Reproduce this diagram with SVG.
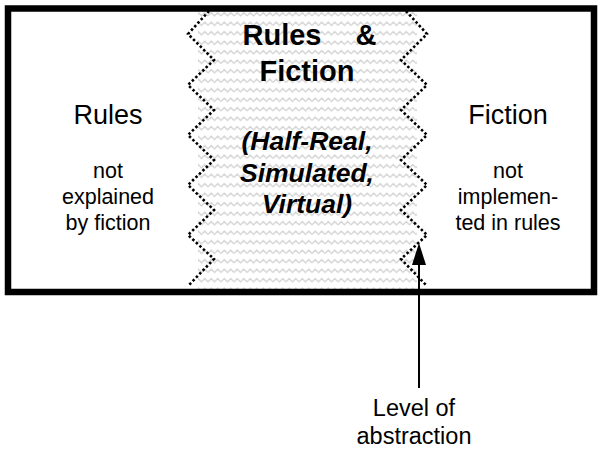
<svg xmlns="http://www.w3.org/2000/svg" width="598" height="452" viewBox="0 0 598 452">
<defs>
<pattern id="wave" patternUnits="userSpaceOnUse" width="13" height="9.5">
<path d="M0,6.5 L3.25,3 L6.5,6.5 L9.75,3 L13,6.5" fill="none" stroke="#d4d4d4" stroke-width="1.4" stroke-linejoin="round"/>
</pattern>
</defs>
<style>
text{font-family:"Liberation Sans",Arial,sans-serif;fill:#000;text-anchor:middle}
.t{font-size:27px}
.s{font-size:21.5px}
.l{font-size:23.5px}
.b{font-size:29px;font-weight:bold}
.bi{font-size:26.5px;font-weight:bold;font-style:italic}
.zz{fill:none;stroke:#000;stroke-width:2.6;stroke-dasharray:2.5 2.3}
</style>
<rect x="0" y="0" width="598" height="452" fill="#fff"/>
<g id="overlap">
<rect x="198" y="10" width="219" height="282" fill="url(#wave)"/>
<polyline class="zz" points="209,11 188,34 214,60 188,85 214,110 188,135 214,160 188,185 214,210 188,235 214,259 188,286"/>
<polyline class="zz" points="406,11 427,34 401,60 427,85 401,110 427,135 401,160 427,185 401,210 427,235 401,259 427,286"/>
<text class="b" x="307" y="45"><tspan x="282">Rules</tspan><tspan x="366">&amp;</tspan></text>
<text class="b" x="307" y="81">Fiction</text>
<text class="bi" x="307" y="150">(Half-Real,</text>
<text class="bi" x="307" y="182">Simulated,</text>
<text class="bi" x="307" y="213">Virtual)</text>
</g>
<g id="frame">
<rect x="8" y="8.5" width="586" height="283.5" fill="none" stroke="#000" stroke-width="6.5"/>
</g>
<g id="rules">
<text class="t" x="108" y="124">Rules</text>
<text class="s" x="108" y="178">not</text>
<text class="s" x="108" y="204">explained</text>
<text class="s" x="108" y="230">by fiction</text>
</g>
<g id="fiction">
<text class="t" x="508" y="124">Fiction</text>
<text class="s" x="508" y="178">not</text>
<text class="s" x="508" y="204">implemen-</text>
<text class="s" x="508" y="230">ted in rules</text>
</g>
<g id="connectors">
<line x1="419" y1="388" x2="419" y2="262" stroke="#000" stroke-width="2"/>
<polygon points="419,243 412,265 426,265" fill="#000"/>
</g>
<g id="level">
<text class="l" x="414" y="416">Level of</text>
<text class="l" x="414" y="444">abstraction</text>
</g>
</svg>
